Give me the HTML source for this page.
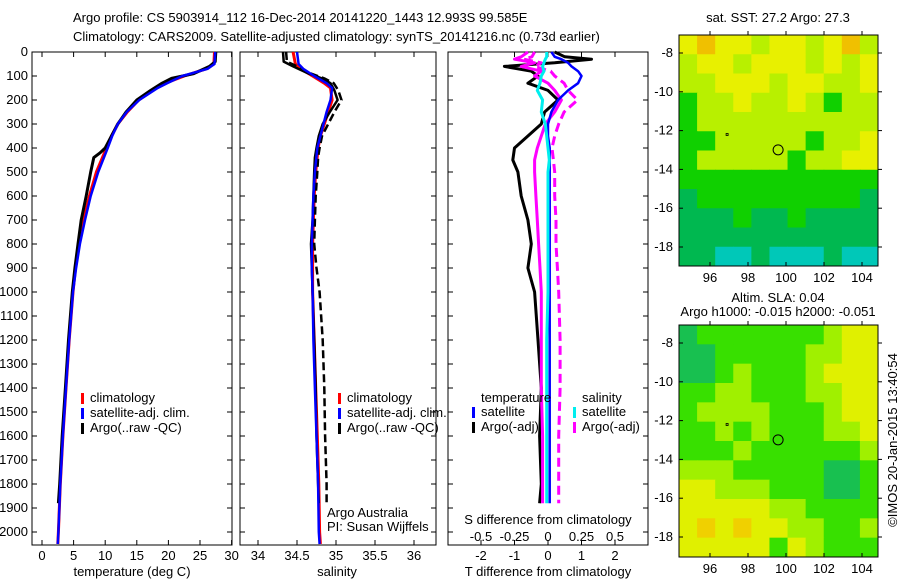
<!DOCTYPE html>
<html><head><meta charset="utf-8">
<style>
body{margin:0;background:#fff;}
svg{display:block;font-family:"Liberation Sans",sans-serif;}
text{font-size:13px;fill:#000;}
</style></head>
<body>
<svg id="c" width="900" height="580" viewBox="0 0 900 580" xmlns="http://www.w3.org/2000/svg">
<text x="73" y="22" font-size="14">Argo profile: CS 5903914_112 16-Dec-2014 20141220_1443 12.993S 99.585E</text>
<text x="73" y="41" font-size="14">Climatology: CARS2009. Satellite-adjusted climatology: synTS_20141216.nc (0.73d earlier)</text>
<g id="g"></g>
</svg>
<script>
// ---- data ----
const depthClim = [0,50,70,100,130,150,200,250,300,350,400,500,600,700,800,900,1000,1200,1400,1600,1800,2000,2050];
const tempClim  = [27.3,27.2,26,22.5,19.5,18,15.3,13.5,12,11,10.2,8.6,7.5,6.6,5.9,5.3,4.9,4.3,3.8,3.3,2.9,2.6,2.5];
const tempSat   = [27.4,27.3,26.2,22.2,19.8,18.3,15.4,13.4,12,11.1,10.4,8.9,7.7,6.8,6.0,5.4,4.9,4.3,3.8,3.3,2.9,2.6,2.5];
const depthArgo = [0,40,60,90,110,130,160,200,250,300,350,400,420,440,500,600,700,800,900,1000,1200,1400,1600,1800,1880];
const tempArgo  = [27.5,27.4,26.5,24,20.5,19,17.2,15,13.3,12,11,10,9.2,8.2,7.7,7,6.2,5.7,5.2,4.8,4.2,3.7,3.2,2.8,2.6];
const salClim   = [34.45,34.48,34.55,34.7,34.85,34.93,34.95,34.9,34.85,34.8,34.77,34.74,34.72,34.71,34.7,34.7,34.7,34.72,34.74,34.76,34.78,34.79,34.8];
const salSat    = [34.5,34.52,34.58,34.72,34.88,34.95,34.93,34.88,34.84,34.8,34.76,34.73,34.71,34.7,34.69,34.69,34.7,34.71,34.73,34.75,34.77,34.78,34.79];
const salArgoQC = [34.32,34.33,34.45,34.65,34.82,34.93,34.98,35.02,34.92,34.83,34.78,34.75,34.74,34.73,34.72,34.71,34.7,34.68,34.69,34.7,34.72,34.74,34.75,34.77,34.78];
const salArgoRaw= [34.36,34.37,34.5,34.68,34.85,34.97,35.03,35.07,34.98,34.9,34.82,34.79,34.78,34.77,34.76,34.74,34.73,34.72,34.75,34.79,34.83,34.85,34.86,34.88,34.88];
const depthDiff = [0,20,30,45,60,80,100,130,160,200,250,300,350,400,450,500,600,700,800,900,1000,1200,1400,1600,1800,1880];
const tDiffSat  = [0.1,0.2,0.4,0.6,0.7,0.9,1.0,0.9,0.6,0.3,0.1,0.0,0.0,0.05,0.05,0.05,0.05,0.05,0.05,0.05,0.05,0.05,0.05,0.05,0.05,0.05];
const tDiffArgo = [0.2,0.5,1.3,0.2,-1.3,-0.5,-0.3,-0.6,0.0,0.3,-0.1,-0.2,-0.6,-1.0,-1.05,-0.9,-0.8,-0.6,-0.5,-0.6,-0.4,-0.3,-0.2,-0.25,-0.2,-0.25];
const sDiffSat  = [-0.01,-0.01,-0.02,-0.03,-0.04,-0.03,-0.05,-0.06,-0.08,-0.04,-0.05,-0.02,-0.01,0.0,0.01,0.0,0.0,0.0,0.0,0.0,0.0,-0.01,-0.01,-0.01,-0.01,-0.01];
const sDiffArgo = [-0.15,-0.2,-0.25,-0.1,-0.2,-0.05,-0.1,0.0,0.05,0.1,0.05,-0.02,-0.05,-0.08,-0.1,-0.1,-0.09,-0.08,-0.07,-0.06,-0.05,-0.05,-0.05,-0.04,-0.04,-0.04];
const sDiffArgoRaw = [-0.1,-0.12,-0.18,-0.05,-0.1,0.02,0.05,0.12,0.15,0.22,0.12,0.08,0.05,0.03,0.04,0.05,0.05,0.06,0.06,0.07,0.08,0.09,0.09,0.08,0.08,0.08];
const depthTicks = [0,100,200,300,400,500,600,700,800,900,1000,1100,1200,1300,1400,1500,1600,1700,1800,1900,2000];
const tempTicks = [0,5,10,15,20,25,30];
const salTicks = [34,34.5,35,35.5,36];
const tDiffTicks = [-2,-1,0,1,2];
const sDiffTicks = [-0.5,-0.25,0,0.25,0.5];
const latTicks = [-8,-10,-12,-14,-16,-18];
const lonTicks = [96,98,100,102,104];
const sstGrid = ["YOYYLYYLYOL","LYYLYYYLYLY","LLYYYLYYLLY","GLLYLLYLGLL","GLLLLLLLLLL","GGLLLLLGLLY","GLLLLLGLLYY","GGGGGGGGGGG","DGGGGGGGGGD","DDDGDDGDDDD","DDDDDDDDDDD","DDTTDTTTDTT"];
const slaGrid = ["DGGGGGGGLYY","DDGGGGGLLYY","DDGLGGGLYYY","GGLLGGGLLYY","GLLLLGGGLYY","GGLGLGGGLLY","GGGLGGGGGGL","LLLGGGGGDDG","YYLLLGGGDDG","YYYYYLLGGGG","YOYOYYLLGGL","YYYYYGYLGGG"];

// ---- drawing ----
const NS="http://www.w3.org/2000/svg";
const g=document.getElementById('g');
function el(tag,attrs,parent){const e=document.createElementNS(NS,tag);for(const k in attrs)e.setAttribute(k,attrs[k]);(parent||g).appendChild(e);return e;}
function txt(x,y,s,anchor,extra){const t=el('text',Object.assign({x:x,y:y,'text-anchor':anchor||'start'},extra||{}));t.textContent=s;return t;}
const yD=d=>52+d*0.24;
function line(xs,ds,sx,color,w,dash,name){
  let p='';xs.forEach((v,i)=>{p+=(i?'L':'M')+sx(v).toFixed(1)+','+yD(ds[i]).toFixed(1);});
  const e=el('path',{d:p,fill:'none',stroke:color,'stroke-width':w,'stroke-dasharray':dash||'none','stroke-linejoin':'round'});
  
  
}
function frame(x0,x1,name){
  const r=el('rect',{x:x0,y:52,width:x1-x0,height:493,fill:'none',stroke:'#000','stroke-width':1});
  
  
}
depthTicks.forEach(d=>{const t=txt(28,yD(d)+4,String(d),'end');
  [[32,37],[227,232],[240,245],[431,436],[448,453],[643,648]].forEach(a=>el('line',{x1:a[0],x2:a[1],y1:yD(d),y2:yD(d),stroke:'#000'}));});
frame(32,232,'temperature-panel');
const sxT=v=>42+v*6.32;
tempTicks.forEach(v=>{el('line',{x1:sxT(v),x2:sxT(v),y1:540,y2:545,stroke:'#000'});el('line',{x1:sxT(v),x2:sxT(v),y1:52,y2:57,stroke:'#000'});const t=txt(sxT(v),560,String(v),'middle');});
txt(132,576,'temperature (deg C)','middle');
line(tempClim,depthClim,sxT,'#f00',3,null,'temp-climatology-line');
line(tempArgo,depthArgo,sxT,'#000',3,null,'temp-argo-line');
line(tempSat,depthClim,sxT,'#00f',2.5,null,'temp-satellite-line');
frame(240,436,'salinity-panel');
const sxS=v=>258+(v-34)*78;
salTicks.forEach(v=>{el('line',{x1:sxS(v),x2:sxS(v),y1:540,y2:545,stroke:'#000'});el('line',{x1:sxS(v),x2:sxS(v),y1:52,y2:57,stroke:'#000'});const t=txt(sxS(v),560,String(v),'middle');});
txt(337,576,'salinity','middle');
line(salClim,depthClim,sxS,'#f00',3,null,'sal-climatology-line');
line(salArgoRaw,depthArgo,sxS,'#000',2.5,'8,4','sal-argo-raw-line');
line(salArgoQC,depthArgo,sxS,'#000',2.5,null,'sal-argo-qc-line');
line(salSat,depthClim,sxS,'#00f',2.5,null,'sal-satellite-line');
txt(327,517,'Argo Australia');
txt(327,531,'PI: Susan Wijffels');
function legend(x,y,items,prefix){items.forEach((it,i)=>{el('rect',{x:x,y:y+i*15-9,width:3,height:11,fill:it[0]});const t=txt(x+9,y+i*15,it[1]);});}
legend(81,402,[['#f00','climatology'],['#00f','satellite-adj. clim.'],['#000','Argo(..raw -QC)']],'temp');
legend(338,402,[['#f00','climatology'],['#00f','satellite-adj. clim.'],['#000','Argo(..raw -QC)']],'sal');
frame(448,648,'difference-panel');
const sxTD=v=>548+v*33.5, sxSD=v=>548+v*134;
tDiffTicks.forEach(v=>{el('line',{x1:sxTD(v),x2:sxTD(v),y1:540,y2:545,stroke:'#000'});el('line',{x1:sxTD(v),x2:sxTD(v),y1:52,y2:57,stroke:'#000'});const t=txt(sxTD(v),560,String(v),'middle');});
sDiffTicks.forEach(v=>{const t=txt(sxSD(v),541,String(v),'middle');});
txt(548,524,'S difference from climatology','middle');
txt(548,576,'T difference from climatology','middle');
line(tDiffArgo,depthDiff,sxTD,'#000',3,null,'tdiff-argo-line');
line(sDiffArgo,depthDiff,sxSD,'#f0f',3,null,'sdiff-argo-line');
line(sDiffArgoRaw,depthDiff,sxSD,'#f0f',3,'9,5','sdiff-argo-raw-line');
line(tDiffSat,depthDiff,sxTD,'#00f',2.5,null,'tdiff-satellite-line');
line(sDiffSat,depthDiff,sxSD,'#0ee',3,null,'sdiff-satellite-line');
txt(481,402,'temperature');
txt(582,402,'salinity');
legend(472,416,[['#00f','satellite'],['#000','Argo(-adj)']],'tdiff');
legend(573,416,[['#0ee','satellite'],['#f0f','Argo(-adj)']],'sdiff');
function map(y0,y1,grid,colors,name){
  const x0=679,x1=878,rows=grid.length,cols=grid[0].length;
  const ch=(y1-y0)/rows,cw=(x1-x0)/cols;
  grid.forEach((row,r)=>{[...row].forEach((c,k)=>{const e=el('rect',{x:x0+k*cw,y:y0+r*ch,width:cw+0.5,height:ch+0.5,fill:colors[c]});
    
    });});
  const f=el('rect',{x:x0,y:y0,width:x1-x0,height:y1-y0,fill:'none',stroke:'#000'});
  
  
  const lonX=v=>710+(v-96)*19, latY=v=>(y0+18)+(-8-v)*19.4;
  lonTicks.forEach(v=>{el('line',{x1:lonX(v),x2:lonX(v),y1:y1-4,y2:y1,stroke:'#000'});el('line',{x1:lonX(v),x2:lonX(v),y1:y0-4,y2:y0,stroke:'#000'});txt(lonX(v),y1+16,String(v),'middle');});
  latTicks.forEach(v=>{el('line',{x1:x0,x2:x0+4,y1:latY(v),y2:latY(v),stroke:'#000'});el('line',{x1:x1,x2:x1+4,y1:latY(v),y2:latY(v),stroke:'#000'});txt(673,latY(v)+4,String(v),'end');});
  el('circle',{cx:lonX(99.585),cy:latY(-12.993),r:5,fill:'none',stroke:'#000'});
  el('rect',{x:lonX(96.9)-1,y:latY(-12.2)-1,width:2,height:2,fill:'none',stroke:'#000','stroke-width':0.8});
}
map(35,266,sstGrid,{Y:'#e8f000',O:'#f0c000',L:'#b8f000',G:'#10d000',D:'#00b850',T:'#00c8b8'},'sst-map');
txt(778,22,'sat. SST: 27.2 Argo: 27.3','middle',{'font-size':'12'});
map(325,557,slaGrid,{Y:'#e0f000',O:'#f0d000',L:'#a0f000',G:'#38e000',D:'#18c050'},'sla-map');
txt(778,302,'Altim. SLA: 0.04','middle',{'font-size':'12'});
txt(778,316,'Argo h1000: -0.015 h2000: -0.051','middle',{'font-size':'12'});
const cr=txt(0,0,'©IMOS 20-Jan-2015 13:40:54','middle',{transform:'translate(897,440) rotate(-90)','font-size':'12'});


</script>
</body></html>
